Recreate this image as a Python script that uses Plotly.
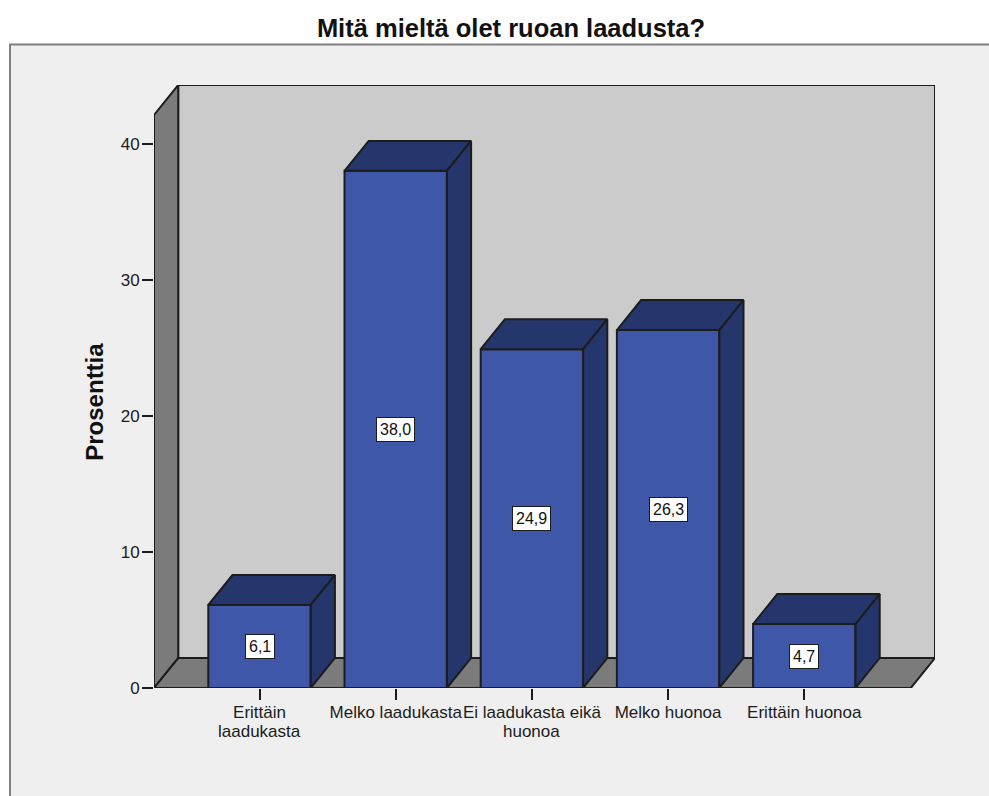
import plotly.graph_objects as go

# Survey results: share of respondents per answer
first_lines = ["Erittäin", "Melko laadukasta", "Ei laadukasta eikä", "Melko huonoa", "Erittäin huonoa"]
second_lines = ["laadukasta", "", "huonoa", "", ""]
percentages = [6.1, 38.0, 24.9, 26.3, 4.7]
y_ticks = [0, 10, 20, 30, 40]

FONT = "Liberation Sans"
INK = "#1c1c1c"
FRONT = "#3e57a9"
SHADE = "#24366b"
WALL = "#7b7b7b"
BACK = "#cbcbcb"
PANEL = "#efefef"
EDGE = 2

WIDTH, HEIGHT = 989, 796
# Plot rectangle in page pixels
L, R, T, B = 154, 935, 85, 688.5

# Axis scales: category step and value step in pixels
PX_PER_CAT = 136.2
PX_PER_UNIT = 13.62
FIRST_CENTER_PX = 259.5

x_min = (L - FIRST_CENTER_PX) / PX_PER_CAT
x_max = (R - FIRST_CENTER_PX) / PX_PER_CAT
y_max = (B - T) / PX_PER_UNIT

# Oblique depth of the pseudo-3D box, in axis units
dx = 24.2 / PX_PER_CAT
dy = 30 / PX_PER_UNIT
bar_w = 0.752
x_positions = list(range(len(first_lines)))


def polygon(points, fill):
    path = "M " + " L ".join(f"{x},{y}" for x, y in points) + " Z"
    return dict(type="path", path=path, xref="x", yref="y", layer="below",
                fillcolor=fill, line=dict(color=INK, width=EDGE))


def paper_x(px):
    return (px - L) / (R - L)


def paper_y(px):
    return (B - px) / (B - T)


shapes = [
    # Grey panel behind the chart; its right and bottom edges run off the page
    dict(type="rect", xref="paper", yref="paper", layer="below",
         x0=paper_x(10), x1=paper_x(WIDTH + 20), y0=paper_y(44.5), y1=paper_y(HEIGHT + 20),
         fillcolor=PANEL, line=dict(color="#808080", width=2)),
    # Back wall, left wall and floor of the box
    polygon([(x_min + dx, dy), (x_max, dy), (x_max, y_max), (x_min + dx, y_max)], BACK),
    polygon([(x_min, 0), (x_min + dx, dy), (x_min + dx, y_max), (x_min, y_max - dy)], WALL),
    polygon([(x_min, 0), (x_min + dx, dy), (x_max, dy), (x_max - dx, 0)], WALL),
]

fig = go.Figure()

fig.add_trace(go.Bar(
    x=x_positions, y=percentages, width=bar_w, cliponaxis=False,
    marker=dict(color=FRONT, line=dict(color=INK, width=EDGE)),
    hoverinfo="skip", showlegend=False,
))

# Top and side faces of every bar, derived from its value
for xc, v in zip(x_positions, percentages):
    x0, x1 = xc - bar_w / 2, xc + bar_w / 2
    fig.add_trace(go.Scatter(
        x=[x0, x0 + dx, x1 + dx, x1, x0], y=[v, v + dy, v + dy, v, v],
        mode="lines", fill="toself", fillcolor=SHADE, cliponaxis=False,
        line=dict(color=INK, width=EDGE), hoverinfo="skip", showlegend=False,
    ))
    fig.add_trace(go.Scatter(
        x=[x1, x1 + dx, x1 + dx, x1, x1], y=[0, dy, v + dy, v, 0],
        mode="lines", fill="toself", fillcolor=SHADE, cliponaxis=False,
        line=dict(color=INK, width=EDGE), hoverinfo="skip", showlegend=False,
    ))

annotations = [
    dict(x=xc, y=v / 2, xref="x", yref="y", text=f"{v:.1f}".replace(".", ","),
         showarrow=False, bgcolor="white", bordercolor=INK, borderwidth=1, borderpad=3,
         font=dict(family=FONT, size=16, color="#111111"))
    for xc, v in zip(x_positions, percentages)
]

# Second lines of the wrapped category labels, set tighter than a <br> allows
annotations += [
    dict(x=xc, y=paper_y(732.5), xref="x", yref="paper", text=line, showarrow=False,
         xanchor="center", yanchor="middle", borderpad=0, font=dict(family=FONT, size=17, color=INK))
    for xc, line in zip(x_positions, second_lines) if line
]

annotations.append(
    dict(x=paper_x(95), y=paper_y(402), xref="paper", yref="paper", text="<b>Prosenttia</b>",
         textangle=-90, showarrow=False, xanchor="center", yanchor="middle",
         font=dict(family=FONT, size=24, color="#111111"))
)

fig.update_layout(
    width=WIDTH, height=HEIGHT, autosize=False,
    margin=dict(l=L, r=WIDTH - R, t=T, b=HEIGHT - B, pad=0),
    paper_bgcolor="white", plot_bgcolor="rgba(0,0,0,0)",
    font=dict(family=FONT, color=INK),
    title=dict(text="<b>Mitä mieltä olet ruoan laadusta?</b>",
               x=511 / WIDTH, xref="container", xanchor="center",
               y=1 - 28 / HEIGHT, yref="container", yanchor="middle",
               font=dict(family=FONT, size=25.5, color="#111111")),
    shapes=shapes,
    annotations=annotations,
    xaxis=dict(range=[x_min, x_max], tickmode="array", tickvals=x_positions, ticktext=first_lines,
               showgrid=False, zeroline=False, showline=False,
               ticks="outside", ticklen=11, tickwidth=EDGE, tickcolor=INK, ticklabelstandoff=-2,
               tickangle=0, tickfont=dict(family=FONT, size=17, color=INK)),
    yaxis=dict(range=[0, y_max], tickmode="array", tickvals=y_ticks,
               showgrid=False, zeroline=False, showline=False,
               ticks="outside", ticklen=11, tickwidth=EDGE, tickcolor=INK, ticklabelstandoff=-1,
               tickfont=dict(family=FONT, size=17, color=INK)),
)

fig.write_html("out.html", config=dict(displayModeBar=False))
